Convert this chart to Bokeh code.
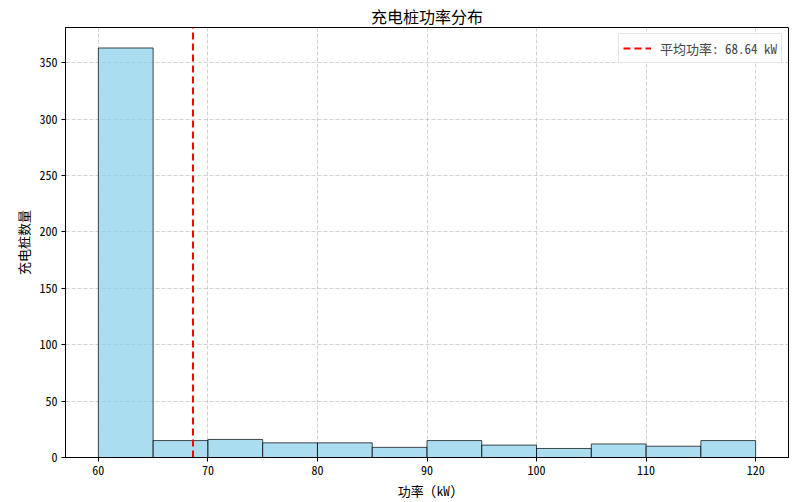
from bokeh.plotting import figure
from bokeh.models import Range1d, FixedTicker, Legend, LegendItem
from bokeh.embed import file_html
from bokeh.resources import INLINE

# Data (histogram of charging-pile power, bins of 5 kW)
bin_left = [60, 65, 70, 75, 80, 85, 90, 95, 100, 105, 110, 115]
bin_right = [65, 70, 75, 80, 85, 90, 95, 100, 105, 110, 115, 120]
counts = [363, 15, 16, 13, 13, 9, 15, 11, 8, 12, 10, 15]
mean_power = 68.64
x_ticks = [60, 70, 80, 90, 100, 110, 120]
y_ticks = [0, 50, 100, 150, 200, 250, 300, 350]

FONT = "Noto Sans Mono CJK SC, Noto Sans CJK SC"

p = figure(width=805, height=502, output_backend="svg", toolbar_location=None,
           x_range=Range1d(57, 123), y_range=Range1d(0, max(counts) * 1.05),
           min_border_left=65, min_border_right=17, min_border_top=27, min_border_bottom=44)

p.title.text = "充电桩功率分布"
p.title.align = "center"
p.title.text_font = FONT
p.title.text_font_size = "16px"
p.title.text_font_style = "normal"
p.title.text_color = "black"
p.title.standoff = 0
p.title.offset = 0

p.quad(left=bin_left, right=bin_right, bottom=0, top=counts,
       fill_color="skyblue", fill_alpha=0.7, line_color="black", line_alpha=0.7, line_width=1)

mean_line = p.line(x=[mean_power, mean_power], y=[0, max(counts) * 1.05],
                   line_color="red", line_width=2, line_dash="7 4")

legend = Legend(items=[LegendItem(label="平均功率: 68.64 kW", renderers=[mean_line])],
                location="top_right")
legend.label_text_font = FONT
legend.label_text_font_size = "13px"
legend.border_line_color = "#cccccc"
legend.border_line_width = 1
legend.background_fill_alpha = 0.9
legend.margin = 6
legend.padding = 4
legend.spacing = 0
legend.glyph_width = 28
legend.label_standoff = 9
legend.label_height = 14
p.add_layout(legend)

p.xaxis.ticker = FixedTicker(ticks=x_ticks)
p.yaxis.ticker = FixedTicker(ticks=y_ticks)
p.xaxis.axis_label = "功率 (kW)"
p.yaxis.axis_label = "充电桩数量"

for ax in (p.xaxis, p.yaxis):
    ax.axis_label_text_font = FONT
    ax.axis_label_text_font_size = "13px"
    ax.axis_label_text_font_style = "normal"
    ax.axis_label_text_color = "black"
    ax.major_label_text_font = FONT
    ax.major_label_text_font_size = "12px"
    ax.major_label_text_color = "black"
    ax.major_tick_out = 4
    ax.major_tick_in = 0
    ax.minor_tick_out = 0
    ax.minor_tick_in = 0
    ax.major_label_standoff = 4
    ax.axis_label_standoff = 3
    ax.axis_line_color = "black"
    ax.major_tick_line_color = "black"

p.grid.grid_line_color = "#b0b0b0"
p.grid.grid_line_alpha = 0.7
p.grid.grid_line_dash = "4 2"
p.grid.grid_line_width = 0.8

p.outline_line_color = "black"
p.outline_line_width = 1
p.outline_line_alpha = 1

open("out.html", "w").write(file_html(p, INLINE))
